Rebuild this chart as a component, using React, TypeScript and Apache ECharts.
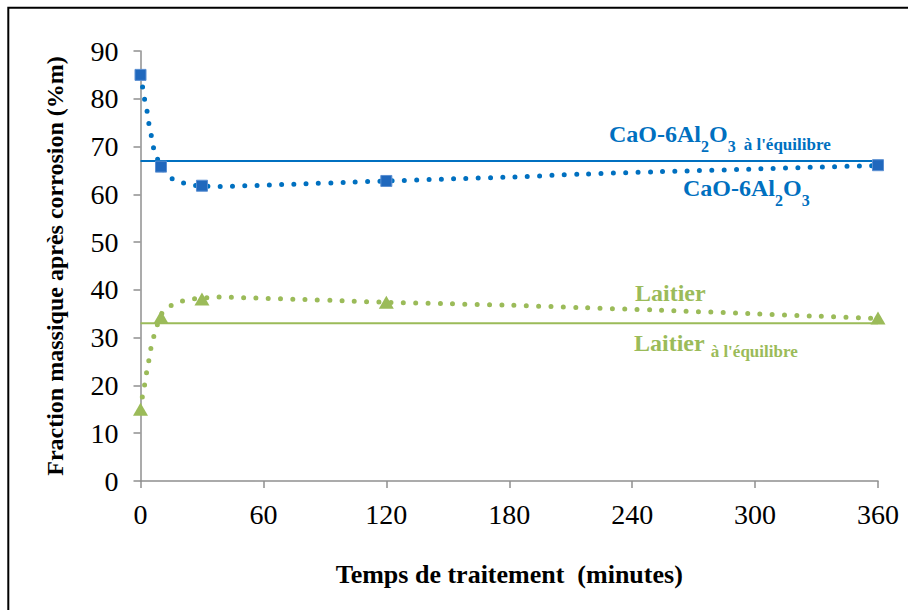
import React, { useEffect, useRef } from "react";
import * as echarts from "echarts";

// Sample times (minutes) and measured mass fractions (%m)
const sampleTimes = [0, 10, 30, 120, 360];
const caoValues = [85, 65.8, 61.8, 62.8, 66.1];
const laitierValues = [15, 34.3, 38.1, 37.4, 34.1];

// Equilibrium values (%m)
const caoEquilibrium = 67;
const laitierEquilibrium = 33;

// Dotted trend curves
const caoTrendTimes = [0, 1, 2, 3.2, 4.1, 5.3, 6.4, 8.4, 10.5, 15.7, 21.4, 27.4, 33.4, 39.4, 45.5, 51.5, 57.7, 63.7, 69.7, 76, 100, 120, 150, 180, 214, 250, 300, 330, 360];
const caoTrendValues = [85, 82.5, 79.9, 77.4, 74.8, 72.2, 69.7, 67.3, 65.4, 63.2, 62.3, 61.8, 61.7, 61.65, 61.7, 61.8, 61.86, 61.95, 62.05, 62.15, 62.5, 62.8, 63.2, 63.6, 64.2, 64.7, 65.3, 65.7, 66.0];
const laitierTrendTimes = [0, 0.9, 2, 3, 4.1, 5.1, 6.6, 8.4, 10.6, 15.5, 21.4, 27.4, 33.4, 39.4, 45.5, 51.5, 57.7, 63.7, 69.7, 76, 100, 120, 150, 180, 214, 250, 300, 330, 360];
const laitierTrendValues = [15, 17.6, 20.1, 22.8, 25.3, 27.8, 30.4, 32.9, 35.2, 36.9, 37.8, 38.2, 38.4, 38.5, 38.45, 38.35, 38.3, 38.2, 38.1, 38.05, 37.7, 37.4, 37.1, 36.8, 36.3, 35.8, 35.0, 34.5, 34.0];

// Axis settings
const xMin = 0;
const xMax = 360;
const xInterval = 60;
const yMin = 0;
const yMax = 90;
const yInterval = 10;

const xTitle = "Temps de traitement  (minutes)";
const yTitle = "Fraction massique après corrosion (%m)";

const BLUE = "#0070C0";
const GREEN = "#9BBB59";
const SERIF = "Liberation Serif";

function zip(a: number[], b: number[]) {
  return a.map((v, i) => [v, b[i]]);
}

function richStyles(color: string, subPad: number, ePad: number, eLeft: number) {
  const base = { fontFamily: SERIF, fontWeight: "bold" as const, fill: color, lineHeight: 30 };
  return {
    m: { ...base, fontSize: 24 },
    s: { ...base, fontSize: 16, padding: [subPad, 0, 0, 0] },
    e: { ...base, fontSize: 17, padding: [ePad, 0, 0, eLeft] },
  };
}

export default function App() {
  const ref = useRef<HTMLDivElement>(null);

  useEffect(() => {
    if (!ref.current) return;
    const chart = echarts.init(ref.current, null, { renderer: "svg" });

    const axisLineStyle = { color: "#8f8f8f", width: 1.5 };
    const labelStyle = { fontFamily: SERIF, fontSize: 28, color: "#000" };

    chart.setOption({
      animation: false,
      backgroundColor: "#fff",
      textStyle: { fontFamily: SERIF },
      grid: { left: 140.5, right: 30, top: 51, bottom: 129, containLabel: false, outerBoundsMode: "none" },
      xAxis: {
        type: "value",
        min: xMin,
        max: xMax,
        interval: xInterval,
        axisLine: { show: true, lineStyle: axisLineStyle },
        axisTick: { show: true, length: 7, lineStyle: axisLineStyle },
        splitLine: { show: false },
        axisLabel: { ...labelStyle, margin: 19 },
        name: xTitle,
        nameLocation: "middle",
        nameGap: 80,
        nameTextStyle: { fontFamily: SERIF, fontSize: 26, fontWeight: "bold", color: "#000" },
      },
      yAxis: {
        type: "value",
        min: yMin,
        max: yMax,
        interval: yInterval,
        axisLine: { show: true, lineStyle: axisLineStyle },
        axisTick: { show: true, length: 7, lineStyle: axisLineStyle },
        splitLine: { show: false },
        axisLabel: { ...labelStyle, margin: 22 },
        name: yTitle,
        nameLocation: "middle",
        nameRotate: 90,
        nameGap: 74,
        nameTextStyle: { fontFamily: SERIF, fontSize: 24, fontWeight: "bold", color: "#000" },
      },
      series: [
        {
          type: "line",
          data: [[xMin, caoEquilibrium], [xMax, caoEquilibrium]],
          symbol: "none",
          lineStyle: { color: BLUE, width: 2 },
          z: 1,
        },
        {
          type: "line",
          data: [[xMin, laitierEquilibrium], [xMax, laitierEquilibrium]],
          symbol: "none",
          lineStyle: { color: GREEN, width: 2 },
          z: 1,
        },
        {
          type: "line",
          data: zip(caoTrendTimes, caoTrendValues),
          symbol: "none",
          smooth: 0.2,
          lineStyle: { color: BLUE, width: 5, type: [0, 12.3], cap: "round" },
          z: 2,
        },
        {
          type: "line",
          data: zip(laitierTrendTimes, laitierTrendValues),
          symbol: "none",
          smooth: 0.2,
          lineStyle: { color: GREEN, width: 5, type: [0, 12.3], cap: "round" },
          z: 2,
        },
        {
          type: "scatter",
          data: zip(sampleTimes, caoValues),
          symbol: "rect",
          symbolSize: 11,
          itemStyle: { color: "#2068BD", borderColor: "#5A8FD2", borderWidth: 1, opacity: 1 },
          z: 3,
        },
        {
          type: "scatter",
          data: zip(sampleTimes, laitierValues),
          symbol: "triangle",
          symbolSize: [15, 13],
          itemStyle: { color: GREEN, opacity: 1 },
          z: 3,
        },
      ],
      graphic: [
        {
          type: "rect",
          shape: { x: 8.3, y: 7.7, width: 1200, height: 1200 },
          style: { fill: "none", stroke: "#000", lineWidth: 2 },
          silent: true,
          z: 100,
        },
        {
          type: "text",
          x: 609,
          y: 119,
          style: {
            text: "{m|CaO-6Al}{s|2}{m|O}{s|3}{e|à l'équilibre}",
            rich: richStyles(BLUE, 24, 20, 8),
            verticalAlign: "top",
            align: "left",
          },
        },
        {
          type: "text",
          x: 683,
          y: 173,
          style: {
            text: "{m|CaO-6Al}{s|2}{m|O}{s|3}",
            rich: richStyles(BLUE, 24, 20, 0),
            verticalAlign: "top",
            align: "left",
          },
        },
        {
          type: "text",
          x: 635,
          y: 278,
          style: {
            text: "{m|Laitier}",
            rich: richStyles(GREEN, 24, 20, 0),
            verticalAlign: "top",
            align: "left",
          },
        },
        {
          type: "text",
          x: 634,
          y: 328,
          style: {
            text: "{m|Laitier}{e|à l'équilibre}",
            rich: richStyles(GREEN, 24, 16, 6),
            verticalAlign: "top",
            align: "left",
          },
        },
      ],
    });

    return () => {
      chart.dispose();
    };
  }, []);

  return (
    <div
      ref={ref}
      style={{ position: "absolute", left: 0, top: 0, width: 908, height: 610, background: "#fff" }}
    />
  );
}
